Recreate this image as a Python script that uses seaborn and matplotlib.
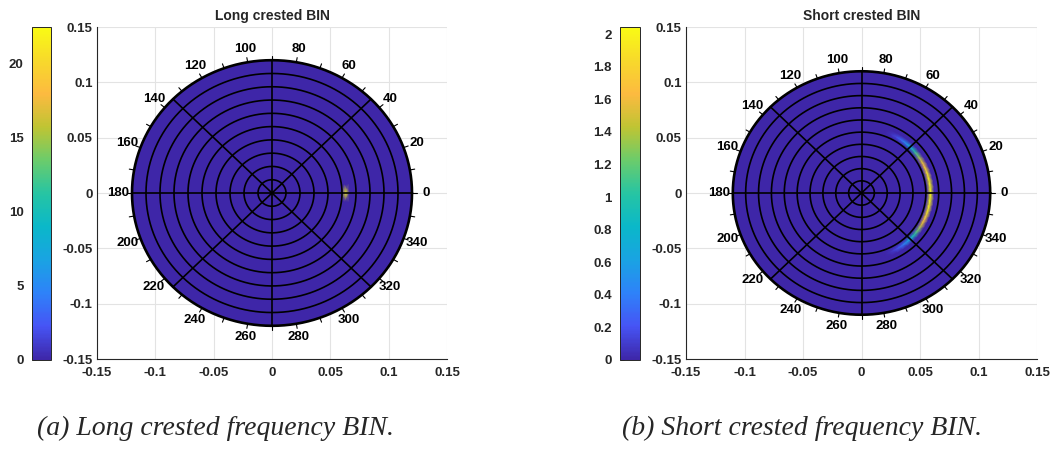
import numpy as np
import matplotlib
matplotlib.use("Agg")
import matplotlib.pyplot as plt
import seaborn as sns
from matplotlib.patches import Circle
from matplotlib.cm import ScalarMappable
from matplotlib.colors import Normalize

sns.set_style("white")
plt.rcParams["font.family"] = ["Liberation Sans", "DejaVu Sans"]

# ---------------- data ----------------
titles = ["Long crested BIN", "Short crested BIN"]
captions = ["(a) Long crested frequency BIN.", "(b) Short crested frequency BIN."]

# polar chart extents (outer radius of each polar grid)
long_rmax = 0.12
short_rmax = 0.11

# long crested: a single narrow spectral peak at direction 0
long_r = [0.0600, 0.0632, 0.0664]
long_dir = [-7, 0, 7]
long_peak = [0.0, 22.4, 0.0]          # values along the peak radius

# short crested: energy spread over directions at one frequency
short_r = [0.0562, 0.0590, 0.0618]
short_dir = [-70, -65, -60, -55, -50, -45, -40, -35, -30, -25, -20, -15, -10, -5, 0,
             5, 10, 15, 20, 25, 30, 35, 40, 45, 50, 55, 60, 65, 70]
short_peak = [0.0, 0.05, 0.15, 0.3, 0.5, 0.75, 1.0, 1.25, 1.5, 1.7, 1.85, 1.95, 2.0, 2.03, 2.04,
              2.03, 2.0, 1.95, 1.85, 1.7, 1.5, 1.25, 1.0, 0.75, 0.5, 0.3, 0.15, 0.05, 0.0]

long_vmax = 22.5
short_vmax = 2.043

long_cb_ticks = [0, 5, 10, 15, 20]
long_cb_labels = ["0", "5", "10", "15", "20"]
short_cb_ticks = [0, 0.2, 0.4, 0.6, 0.8, 1.0, 1.2, 1.4, 1.6, 1.8, 2.0]
short_cb_labels = ["0", "0.2", "0.4", "0.6", "0.8", "1", "1.2", "1.4", "1.6", "1.8", "2"]

axis_ticks = [-0.15, -0.1, -0.05, 0, 0.05, 0.1, 0.15]
axis_labels = ["-0.15", "-0.1", "-0.05", "0", "0.05", "0.1", "0.15"]

angle_labels = [0, 20, 40, 60, 80, 100, 120, 140, 160, 180, 200, 220, 240, 260, 280, 300, 320, 340]
angle_ticks = [0, 10, 20, 30, 40, 50, 60, 70, 80, 90, 100, 110, 120, 130, 140, 150, 160, 170,
               180, 190, 200, 210, 220, 230, 240, 250, 260, 270, 280, 290, 300, 310, 320, 330, 340, 350]
spoke_angles = [0, 45, 90, 135]
n_rings = 10

# ---------------- style ----------------
parula_anchors = [
    (0.242, 0.150, 0.660), (0.275, 0.330, 0.960), (0.180, 0.510, 0.975),
    (0.100, 0.640, 0.890), (0.040, 0.720, 0.790), (0.150, 0.770, 0.640),
    (0.420, 0.800, 0.420), (0.750, 0.770, 0.200), (0.990, 0.730, 0.250),
    (0.970, 0.850, 0.170), (0.977, 0.984, 0.081),
]
cmap = sns.blend_palette(parula_anchors, n_colors=256, as_cmap=True)

W, H = 1056, 455
fig = plt.figure(figsize=(W / 100, H / 100), dpi=100)


def fr(x0, y0, w, h):
    return [x0 / W, 1 - (y0 + h) / H, w / W, h / H]


panels = [
    dict(ax=fr(97, 27, 350, 332), cax=fr(32, 27, 19, 333), rmax=long_rmax,
         r=long_r, d=long_dir, peak=long_peak, vmax=long_vmax,
         cbt=long_cb_ticks, cbl=long_cb_labels),
    dict(ax=fr(686, 27, 351, 332), cax=fr(620, 27, 20, 333), rmax=short_rmax,
         r=short_r, d=short_dir, peak=short_peak, vmax=short_vmax,
         cbt=short_cb_ticks, cbl=short_cb_labels),
]

FS = 9.5
tick_font = dict(fontsize=FS, fontweight="bold", color="#262626")
circ = np.linspace(0, 2 * np.pi, 721)

for i, p in enumerate(panels):
    ax = fig.add_axes(p["ax"])
    cax = fig.add_axes(p["cax"])

    ax.set_xlim(-0.15, 0.15)
    ax.set_ylim(-0.15, 0.15)
    ax.set_xticks(axis_ticks)
    ax.set_xticklabels(axis_labels, **tick_font)
    ax.set_yticks(axis_ticks)
    ax.set_yticklabels(axis_labels, **tick_font)
    ax.grid(True, color="#e3e3e3", linewidth=0.8, zorder=0)
    ax.set_axisbelow(True)
    for s in ["top", "right"]:
        ax.spines[s].set_visible(False)
    for s in ["left", "bottom"]:
        ax.spines[s].set_color("#262626")
        ax.spines[s].set_linewidth(0.8)
    ax.tick_params(direction="in", length=4, width=0.8, color="#262626", pad=3)
    ax.tick_params(axis="x", pad=6)
    ax.set_title(titles[i], fontsize=10, fontweight="bold", pad=5)

    rmax = p["rmax"]
    ax.add_patch(Circle((0, 0), rmax, facecolor=cmap(0.0), edgecolor="none", zorder=2))

    # spectrum (one radial row carries the values, neighbours are zero)
    nd = len(p["d"])
    S = np.zeros((3, nd))
    S[1, :] = p["peak"]
    R, T = np.meshgrid(np.array(p["r"]), np.deg2rad(p["d"]), indexing="ij")
    ax.pcolormesh(R * np.cos(T), R * np.sin(T), S, shading="gouraud",
                  cmap=cmap, vmin=0, vmax=p["vmax"], zorder=3)

    # polar grid
    for k in range(1, n_rings + 1):
        rr = rmax * k / n_rings
        ax.plot(rr * np.cos(circ), rr * np.sin(circ), color="black",
                lw=1.9 if k == n_rings else 1.2, zorder=4)
    for a in spoke_angles:
        t = np.deg2rad(a)
        ax.plot([-rmax * np.cos(t), rmax * np.cos(t)], [-rmax * np.sin(t), rmax * np.sin(t)],
                color="black", lw=1.2, zorder=4)
    for a in angle_ticks:
        t = np.deg2rad(a)
        ax.plot([rmax * np.cos(t), rmax * 1.035 * np.cos(t)],
                [rmax * np.sin(t), rmax * 1.035 * np.sin(t)], color="black", lw=0.8, zorder=4)
    for a in angle_labels:
        t = np.deg2rad(a)
        rl = rmax + 0.012
        ax.text(rl * np.cos(t), rl * np.sin(t), str(a), ha="center", va="center",
                fontsize=FS, fontweight="bold", color="black", zorder=5)

    # colorbar on the left
    sm = ScalarMappable(norm=Normalize(0, p["vmax"]), cmap=cmap)
    cb = fig.colorbar(sm, cax=cax)
    cb.set_ticks(p["cbt"])
    cb.set_ticklabels(p["cbl"])
    cax.yaxis.set_ticks_position("left")
    cax.yaxis.set_label_position("left")
    cax.tick_params(direction="in", length=3, width=0.6, color="#262626", pad=6)
    for lab in cax.get_yticklabels():
        lab.set_fontsize(FS)
        lab.set_fontweight("bold")
        lab.set_color("#262626")
    cb.outline.set_edgecolor("#262626")
    cb.outline.set_linewidth(0.7)

fig.text(37 / W, 1 - 428 / H, captions[0], fontsize=20, style="italic",
         family=["Liberation Serif", "DejaVu Serif"], ha="left", va="center")
fig.text(622 / W, 1 - 428 / H, captions[1], fontsize=20, style="italic",
         family=["Liberation Serif", "DejaVu Serif"], ha="left", va="center")

fig.savefig("out.png", dpi=100)
